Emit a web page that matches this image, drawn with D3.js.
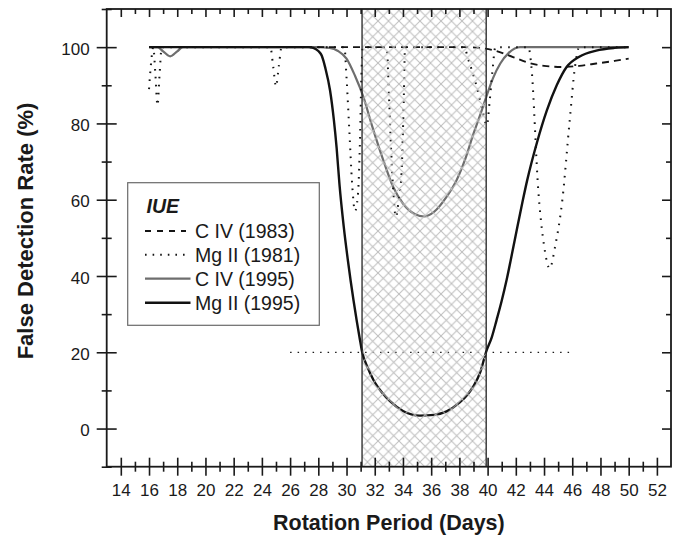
<!DOCTYPE html>
<html><head><meta charset="utf-8">
<script src="https://cdn.jsdelivr.net/npm/d3@7"></script>
<style>body{margin:0;background:#fff}svg{display:block}text{font-family:"Liberation Sans",Arial,sans-serif;fill:#1a1a1a}</style>
</head><body>
<script>
// ---- data ----
const xMajorTicks = [14,16,18,20,22,24,26,28,30,32,34,36,38,40,42,44,46,48,50,52];
const xMinorTicks = [15,17,19,21,23,25,27,29,31,33,35,37,39,41,43,45,47,49,51];
const yMajorTicks = [0,20,40,60,80,100];
const yMinorTicks = [-10,10,30,50,70,90,110];
const hatchBand = [31.1, 39.9];
const thresholdLine = {x0: 26, x1: 46, y: 20};

const civ1983 = [[16,100],[25,100],[35,100],[38.5,100],[39.4,99.8],[40.6,99],[41.8,97.4],[42.9,95.9],[44,95.1],[45.3,94.8],[46.5,95.1],[47.7,95.7],[49,96.4],[50,97.0]];
const mgii1981 = [[16.0,89],[16.15,96],[16.3,100],[16.45,93],[16.6,84.7],[16.75,93],[16.9,100],[24.6,100],[24.8,95],[25.0,89.7],[25.2,95],[25.4,100],
  [29.85,100],[30.0,92],[30.2,78],[30.4,64],[30.6,57],[30.8,61],[30.95,75],[31.05,92],[31.15,100],
  [32.85,100],[33.0,88],[33.15,74],[33.3,63],[33.5,55.5],[33.7,60],[33.9,67],[34.05,85],[34.15,100],
  [38.3,100],[38.7,96],[39.2,90],[39.6,84],[39.95,79.5],[40.15,86],[40.35,94],[40.55,100],
  [42.9,100],[43.1,95],[43.6,62],[44.0,48],[44.4,42],[44.8,48],[45.3,60],[45.8,80],[46.2,95],[46.5,100],[50,100]];
const civ1995 = [[16,100],[16.6,100],[17.0,98.9],[17.5,97.6],[18.0,98.9],[18.4,100],[20,100],[24,100],[28,100],[28.8,99.8],[29.4,99],[30.0,97],[30.6,92.5],[31.2,86.9],[31.8,79.5],[32.5,71.5],[33.3,63.4],[34.0,59],[34.8,56.3],[35.5,55.6],[36.2,56.8],[37.1,60.8],[37.8,65.1],[38.4,70.5],[39.0,77.3],[39.5,82.5],[39.9,86.9],[40.4,92],[40.9,95.7],[41.5,98.5],[42.3,100],[44,100],[50,100]];
const mgii1995 = [[16,100],[20,100],[25,100],[27.3,100],[27.64,99.8],[28.0,99],[28.24,97.8],[28.5,94.5],[28.83,88.7],[29.1,81],[29.3,73.5],[29.5,64],[29.8,53],[30.1,44],[30.5,33.5],[30.95,23.3],[31.1,20.2],[31.5,16],[31.9,12.8],[32.5,9.5],[33.1,7.1],[34,4.6],[35.2,3.4],[36.2,3.6],[37.1,4.5],[38.0,6.8],[38.6,9],[39.0,11.1],[39.5,15],[39.9,20.2],[40.3,24],[40.64,28.5],[41.0,33.5],[41.35,39],[41.9,49],[42.5,59.9],[42.8,65],[43.5,75],[44.2,83.4],[44.9,90],[45.6,94.8],[46.5,97.5],[47.7,99.1],[49,99.8],[50,100]];

const legendTitle = "IUE";
const legendLabels = ["C IV (1983)","Mg II (1981)","C IV (1995)","Mg II (1995)"];
const xTitle = "Rotation Period (Days)";
const yTitle = "False Detection Rate (%)";

// ---- drawing ----
const W = 683, H = 538;
const L = 106.7, R = 671, T = 9, B = 466.7;
const x = d3.scaleLinear().domain([13,53]).range([L,R]);
const y = d3.scaleLinear().domain([-10,110]).range([B,T]);

const svg = d3.select("body").append("svg").attr("width",W).attr("height",H);
const defs = svg.append("defs");
const pat = defs.append("pattern").attr("id","hatch").attr("patternUnits","userSpaceOnUse")
  .attr("width",10.5).attr("height",10.5);
pat.append("path").attr("d","M0,0L10.5,10.5M10.5,0L0,10.5M-1,9.5L1,11.5M9.5,-1L11.5,1")
  .attr("stroke","#bdbdbd").attr("stroke-width",1).attr("fill","none");

const line = d3.line().x(d=>x(d[0])).y(d=>y(d[1])).curve(d3.curveMonotoneX);

const styles = [
  {data:civ1983, stroke:"#151515", w:1.9, dash:"7,5"},
  {data:mgii1981, stroke:"#151515", w:2.0, dash:"1.6,6.4"},
  {data:civ1995, stroke:"#6e6e6e", w:2.2, dash:null},
  {data:mgii1995, stroke:"#121212", w:2.4, dash:null}
];
const order = [2,3,0,1];
order.forEach(i=>{
  const s = styles[i];
  svg.append("path").attr("d",line(s.data)).attr("fill","none")
    .attr("stroke",s.stroke).attr("stroke-width",s.w)
    .attr("stroke-dasharray",s.dash).attr("stroke-linejoin","round");
});

// threshold dotted line
svg.append("line").attr("x1",x(thresholdLine.x0)).attr("x2",x(thresholdLine.x1))
  .attr("y1",y(thresholdLine.y)).attr("y2",y(thresholdLine.y))
  .attr("stroke","#1a1a1a").attr("stroke-width",1.3).attr("stroke-dasharray","1.5,6");

// hatched band (drawn over curves)
svg.append("rect").attr("x",x(hatchBand[0])).attr("y",T)
  .attr("width",x(hatchBand[1])-x(hatchBand[0])).attr("height",B-T)
  .attr("fill","url(#hatch)");
hatchBand.forEach(v=>svg.append("line").attr("x1",x(v)).attr("x2",x(v)).attr("y1",T).attr("y2",B)
  .attr("stroke","#222").attr("stroke-width",1.3));

// axes
function styleAxis(g){ g.select(".domain").remove(); g.selectAll("line").attr("stroke","#1a1a1a").attr("stroke-width",1.6); }
const gb = svg.append("g").attr("transform",`translate(0,${B})`)
  .call(d3.axisBottom(x).tickValues(xMajorTicks).tickSize(9).tickFormat(d3.format("d")));
styleAxis(gb);
gb.selectAll(".tick line").attr("y1",-9).attr("y2",9);
gb.selectAll("text").attr("y",29.5).attr("dy",null).style("font-size","17px").attr("fill","#1a1a1a");
const gbm = svg.append("g").attr("transform",`translate(0,${B})`)
  .call(d3.axisBottom(x).tickValues(xMinorTicks).tickSize(5).tickFormat(""));
styleAxis(gbm); gbm.selectAll(".tick line").attr("y1",-5).attr("y2",5);

const gt = svg.append("g").attr("transform",`translate(0,${T})`)
  .call(d3.axisTop(x).tickValues(xMajorTicks).tickSize(-8).tickFormat(""));
styleAxis(gt);
const gtm = svg.append("g").attr("transform",`translate(0,${T})`)
  .call(d3.axisTop(x).tickValues(xMinorTicks).tickSize(-5).tickFormat(""));
styleAxis(gtm);

const gl = svg.append("g").attr("transform",`translate(${L},0)`)
  .call(d3.axisLeft(y).tickValues(yMajorTicks).tickSize(10).tickFormat(d3.format("d")));
styleAxis(gl);
gl.selectAll(".tick line").attr("x1",-10).attr("x2",10);
gl.selectAll("text").attr("x",-17).attr("dy","0.42em").style("font-size","17px").attr("fill","#1a1a1a");
const glm = svg.append("g").attr("transform",`translate(${L},0)`)
  .call(d3.axisLeft(y).tickValues(yMinorTicks).tickSize(5).tickFormat(""));
styleAxis(glm); glm.selectAll(".tick line").attr("x1",-5).attr("x2",5);

const gr = svg.append("g").attr("transform",`translate(${R},0)`)
  .call(d3.axisRight(y).tickValues(yMajorTicks).tickSize(-9).tickFormat(""));
styleAxis(gr);
const grm = svg.append("g").attr("transform",`translate(${R},0)`)
  .call(d3.axisRight(y).tickValues(yMinorTicks.filter(v=>v>-10&&v<110)).tickSize(-5).tickFormat(""));
styleAxis(grm);

// frame
svg.append("rect").attr("x",L).attr("y",T).attr("width",R-L).attr("height",B-T)
  .attr("fill","none").attr("stroke","#1a1a1a").attr("stroke-width",1.8);

// titles
svg.append("text").attr("x",(L+R)/2).attr("y",530).attr("text-anchor","middle")
  .style("font-size","21.5px").style("font-weight","bold").text(xTitle);
svg.append("text").attr("transform","translate(33,231) rotate(-90)").attr("text-anchor","middle")
  .style("font-size","22px").style("font-weight","bold").text(yTitle);

// legend
const lg = svg.append("g");
lg.append("rect").attr("x",127.7).attr("y",182.7).attr("width",191.6).attr("height",142.6)
  .attr("fill","#fff").attr("stroke","#6a6a6a").attr("stroke-width",1.2);
lg.append("text").attr("x",146.5).attr("y",213).style("font-size","19.5px")
  .style("font-weight","bold").style("font-style","italic").text(legendTitle);
const rowY = [231, 254.7, 278.7, 302.7];
legendLabels.forEach((lab,i)=>{
  const s = styles[i];
  const x2 = s.dash ? 186 : 190.5;
  lg.append("line").attr("x1",145).attr("x2",x2).attr("y1",rowY[i]).attr("y2",rowY[i])
    .attr("stroke",s.stroke).attr("stroke-width",s.w).attr("stroke-dasharray", i===0?"6,6":(i===1?"1.6,6":s.dash));
  lg.append("text").attr("x",195).attr("y",rowY[i]+7).style("font-size","19.5px").text(lab);
});
</script>
</body></html>
